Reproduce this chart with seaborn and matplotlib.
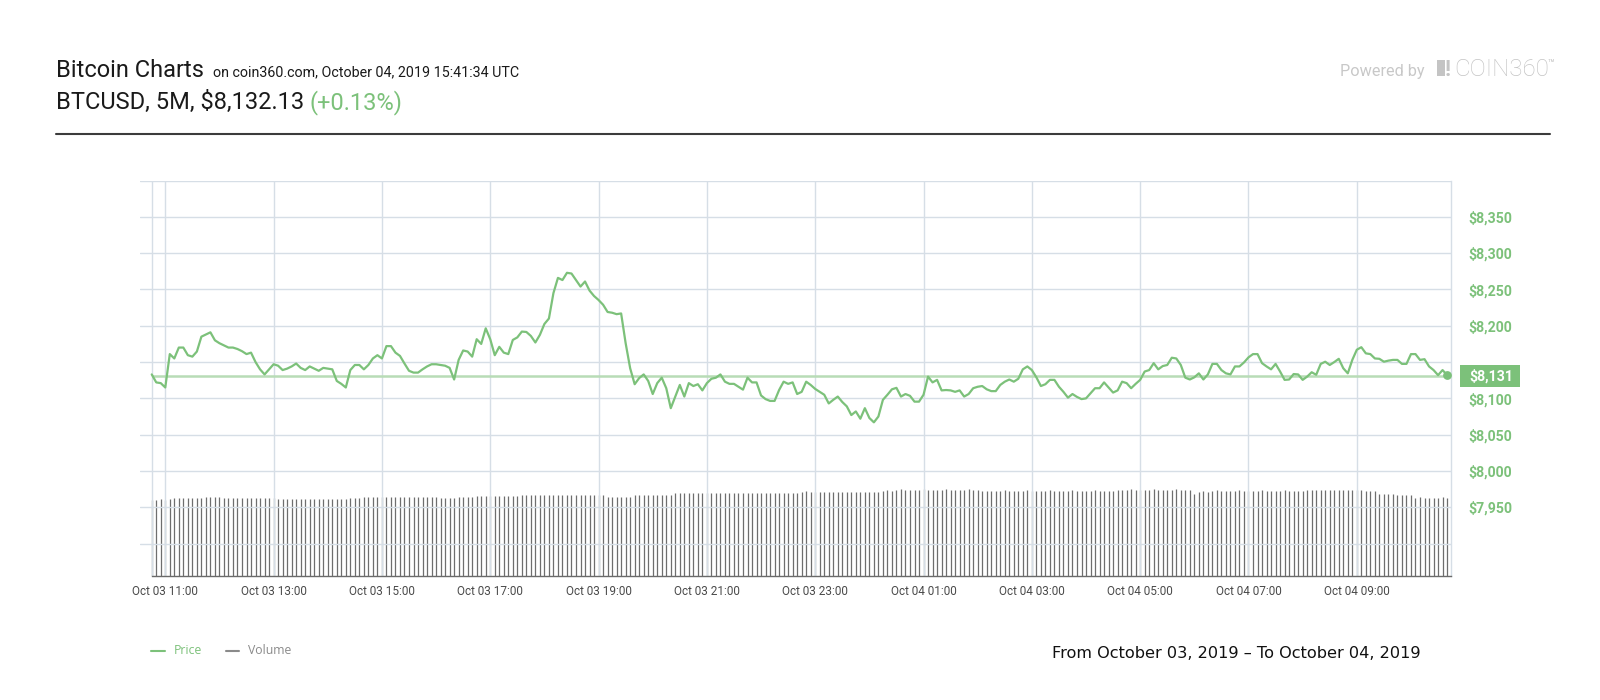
import numpy as np
import pandas as pd
import matplotlib
matplotlib.use("Agg")
import matplotlib.pyplot as plt
import matplotlib.dates as mdates
import matplotlib.transforms as mtransforms
from matplotlib.patches import Rectangle
from matplotlib.lines import Line2D
import seaborn as sns

# ---------------- data ----------------
start_time = "2019-10-03 10:45"
price = [
    8133, 8122, 8121, 8115, 8161, 8155, 8170, 8170, 8159.5, 8157.5, 8164.5, 8185,
    8188, 8191, 8180, 8176, 8173, 8170, 8170, 8168, 8165, 8161, 8163, 8150,
    8140, 8133, 8140, 8147, 8145, 8139, 8141, 8144, 8148, 8142, 8139, 8144,
    8141, 8138, 8142, 8141, 8140, 8124, 8120, 8115, 8139, 8146, 8146, 8140,
    8146, 8155, 8159.5, 8155, 8172, 8172, 8163, 8158.5, 8148, 8138, 8135.5, 8135.5,
    8140, 8144, 8147, 8147, 8146, 8145, 8142, 8126, 8153, 8166, 8164.5, 8157.5,
    8181.5, 8175, 8196.5, 8181.5, 8159.5, 8171, 8163, 8161, 8180.5, 8184, 8192, 8191.5,
    8186, 8177, 8187.5, 8202.5, 8210, 8245, 8266, 8263, 8273, 8272, 8263, 8254,
    8261, 8248.5, 8241, 8235.5, 8229, 8219, 8218, 8216, 8217, 8176, 8141.5, 8119.5,
    8128, 8133, 8124, 8106, 8121, 8128.5, 8114, 8086.5, 8102.5, 8118.5, 8102.5, 8121,
    8117, 8119.5, 8111, 8121, 8127, 8128.5, 8133, 8123, 8120, 8120, 8116, 8112,
    8128.5, 8122, 8122, 8104, 8099, 8096.5, 8096.5, 8111.5, 8123, 8120, 8122, 8106,
    8109, 8123, 8118.5, 8113, 8109, 8105, 8093, 8098, 8102.5, 8095, 8089, 8077,
    8082, 8072, 8086.5, 8073, 8067, 8075, 8098, 8105, 8112.5, 8114.5, 8102.5, 8106,
    8103.5, 8095.5, 8095.5, 8105, 8130, 8122, 8125.5, 8111, 8111.5, 8111, 8109, 8111,
    8102.5, 8106, 8114, 8116, 8117, 8112.5, 8110, 8110, 8118.5, 8123, 8126, 8123,
    8127, 8140, 8144, 8139, 8129, 8117, 8119.5, 8125.5, 8125.5, 8116, 8109, 8101,
    8106, 8102, 8099, 8100, 8107, 8114, 8114, 8122, 8115, 8108, 8111, 8123,
    8121, 8114, 8120, 8125.5, 8137, 8139, 8148.5, 8140, 8144.5, 8146, 8156, 8155,
    8146, 8128.5, 8126, 8129, 8134.5, 8126, 8133, 8147.5, 8147.5, 8139, 8134.5, 8133,
    8144, 8144, 8149.5, 8156.5, 8161, 8161, 8148.5, 8144, 8140, 8147.5, 8137, 8125.5,
    8126, 8133.5, 8133, 8125.5, 8130, 8136, 8132.5, 8147.5, 8150.5, 8146, 8150, 8154.5,
    8141.5, 8134.5, 8153, 8167, 8170.5, 8162, 8161, 8155, 8154.5, 8150.5, 8152, 8153,
    8153, 8147.5, 8147.5, 8161, 8161, 8153, 8154, 8144, 8139, 8132, 8139, 8132,
]
volume = [
    76.0, 76.0, 76.2, 76.0, 76.3, 77.5, 77.6, 77.5, 77.5, 77.7, 77.5, 77.6,
    78.5, 78.6, 78.5, 78.4, 77.5, 77.5, 77.6, 77.5, 77.4, 77.5, 77.5, 77.6,
    77.5, 77.4, 77.5, 77.5, 76.5, 76.4, 76.5, 76.5, 76.6, 76.5, 76.4, 76.5,
    76.5, 76.5, 76.6, 76.5, 76.4, 76.5, 76.6, 76.5, 77.2, 77.3, 77.2, 78.5,
    78.5, 78.6, 78.5, 78.5, 78.4, 78.5, 78.6, 78.5, 78.5, 78.4, 78.5, 78.6,
    78.5, 78.5, 78.6, 78.5, 77.5, 77.4, 77.5, 77.5, 78.5, 78.6, 78.5, 78.5,
    79.5, 79.6, 79.5, 79.5, 79.4, 79.5, 79.6, 79.5, 79.5, 79.6, 80.5, 80.4,
    80.5, 80.6, 80.5, 80.5, 80.4, 80.5, 80.6, 80.5, 80.5, 80.4, 80.5, 80.6,
    80.5, 80.5, 80.4, 80.5, 80.6, 78.5, 78.4, 78.5, 78.5, 78.6, 78.5, 80.5,
    80.5, 80.6, 80.5, 80.5, 80.4, 80.5, 80.6, 80.5, 82.5, 82.4, 82.5, 82.6,
    82.5, 82.5, 82.4, 82.5, 82.6, 82.5, 82.5, 82.4, 82.5, 82.6, 82.5, 82.5,
    82.4, 82.5, 82.6, 82.5, 82.5, 82.4, 82.5, 82.6, 82.5, 82.5, 82.4, 82.5,
    84.0, 84.1, 84.0, 84.0, 83.9, 84.0, 83.5, 83.6, 83.5, 83.5, 83.4, 83.5,
    83.5, 83.6, 83.5, 83.5, 83.4, 83.5, 85.0, 85.1, 85.0, 86.0, 86.1, 86.0,
    86.0, 85.9, 86.0, 86.1, 86.0, 86.0, 85.9, 86.0, 86.1, 86.0, 86.0, 85.9,
    86.0, 86.1, 86.0, 86.0, 84.5, 84.6, 84.5, 84.5, 85.0, 85.1, 85.0, 85.0,
    84.9, 85.0, 85.1, 85.0, 85.0, 84.9, 85.0, 85.1, 85.0, 85.0, 84.9, 85.0,
    85.1, 85.0, 85.0, 84.9, 85.0, 85.1, 85.0, 85.0, 84.9, 85.0, 85.1, 86.0,
    86.0, 86.1, 86.0, 86.0, 85.9, 86.0, 86.1, 86.0, 86.0, 85.9, 86.0, 86.1,
    86.0, 86.0, 85.9, 81.7, 84.0, 84.1, 84.0, 85.0, 85.1, 85.0, 85.0, 84.9,
    85.0, 85.1, 85.0, 85.0, 84.9, 85.0, 85.1, 85.0, 85.0, 84.9, 85.0, 85.1,
    85.0, 85.0, 84.9, 85.0, 85.1, 85.5, 85.6, 85.5, 85.5, 85.4, 85.5, 85.6,
    85.5, 85.5, 85.4, 85.5, 85.6, 84.5, 84.6, 84.5, 81.7, 81.8, 81.7, 81.6,
    80.5, 80.6, 80.5, 80.4, 78.0, 78.1, 78.0, 77.9, 78.0, 78.0, 78.1, 78.0,
]
current_price = 8131
y_ticks = [7900, 7950, 8000, 8050, 8100, 8150, 8200, 8250, 8300, 8350, 8400]
y_labels = ["", "$7,950", "$8,000", "$8,050", "$8,100", "", "$8,200",
            "$8,250", "$8,300", "$8,350", ""]
x_ticks = pd.date_range("2019-10-03 11:00", "2019-10-04 09:00", freq="2h")

times = pd.date_range(start_time, periods=len(price), freq="5min")
df = pd.DataFrame({"time": times, "price": price, "volume": volume})

# ---------------- style ----------------
sns.set_style("white")
plt.rcParams["font.family"] = ["Roboto", "DejaVu Sans"]

GREEN = "#7cc17a"
LEVEL = "#b8dcb6"
GRID = "#d6dee6"
VOLC = "#6e6e6e"

fig = plt.figure(figsize=(16, 7), dpi=100)
ax = fig.add_axes([140 / 1600, 1 - 575.5 / 700, 1310.7 / 1600, 394.9 / 700])

x_left = pd.Timestamp("2019-10-03 10:32")
x_right = pd.Timestamp("2019-10-04 10:44")

# volume on a twin axis (behind price)
ax2 = ax.twinx()
ax2.vlines(df["time"], 0, df["volume"], color=VOLC, lw=0.9)
ax2.set_ylim(0, 394.9)
ax2.set_yticks([])
for s in ax2.spines.values():
    s.set_visible(False)

# price
ax.hlines(current_price, times[0], x_right, color=LEVEL, lw=1.8, zorder=2)
sns.lineplot(data=df, x="time", y="price", ax=ax, color=GREEN, lw=1.6, zorder=3)
ax.scatter([times[-1]], [price[-1]], s=28, color=GREEN, zorder=4)

ax.set_xlim(x_left, x_right)
ax.set_ylim(7856, 8400)
ax.set_xlabel("")
ax.set_ylabel("")

ax.set_xticks(x_ticks)
ax.xaxis.set_major_formatter(mdates.DateFormatter("%b %d %H:%M"))
ax.tick_params(axis="x", length=0, pad=7, labelsize=8.5, labelcolor="#4a4a4a")

ax.yaxis.tick_right()
ax.set_yticks(y_ticks)
ax.set_yticklabels(y_labels)
ax.tick_params(axis="y", length=0, pad=12.5, labelsize=10.2, labelcolor=GREEN)
for lab in ax.get_yticklabels():
    lab.set_fontweight("bold")

ax.grid(True, color=GRID, lw=1)
ax.axvline(times[0], color=GRID, lw=1, zorder=0)
ax.set_axisbelow(True)
for side in ["left", "top"]:
    ax.spines[side].set_visible(False)
ax.spines["right"].set_color(GRID)
ax.spines["right"].set_linewidth(1)
ax.spines["bottom"].set_color("#6a6a6a")
ax.spines["bottom"].set_linewidth(1)
ax.spines["bottom"].set_bounds(mdates.date2num(times[0]), mdates.date2num(x_right))
ax.set_zorder(ax2.get_zorder() + 1)
ax.patch.set_visible(False)

# current price box on the right
blend = mtransforms.blended_transform_factory(ax.transAxes, ax.transData)
ax.add_patch(Rectangle((1.0071, current_price - 15.6), 0.0458, 31.2, transform=blend,
                       clip_on=False, facecolor=GREEN, edgecolor="none", zorder=5))
ax.text(1.0139, current_price, f"${current_price:,}", transform=blend, color="white",
        fontsize=10.2, fontweight="bold", va="center", ha="left", zorder=6,
        clip_on=False)

# ---------------- header ----------------
fig.text(56 / 1600, 1 - 76.7 / 700, "Bitcoin Charts", fontsize=17, color="#1a1a1a",
         va="baseline")
fig.text(213 / 1600, 1 - 76.7 / 700, "on coin360.com, October 04, 2019 15:41:34 UTC",
         fontsize=10.3, color="#1a1a1a", va="baseline")
fig.text(56 / 1600, 1 - 109.3 / 700, "BTCUSD, 5M, $8,132.13", fontsize=17,
         color="#1a1a1a", va="baseline")
fig.text(309.3 / 1600, 1 - 109.3 / 700, "(+0.13%)", fontsize=17, color=GREEN,
         va="baseline")
fig.add_artist(Line2D([56 / 1600, 1550 / 1600], [1 - 134.3 / 700] * 2,
                      color="#3c3c3c", lw=1.5))

fig.text(1340 / 1600, 1 - 75.7 / 700, "Powered by", fontsize=11.7, color="#c8c8c8",
         va="baseline")
fig.add_artist(Rectangle((1436.7 / 1600, 1 - 76 / 700), 8 / 1600, 16 / 700,
                         transform=fig.transFigure, facecolor="#c4c4c4",
                         edgecolor="none"))
fig.text(1445 / 1600, 1 - 76 / 700, "!", fontsize=16, fontweight="bold",
         color="#c4c4c4", va="baseline")
fig.text(1454 / 1600, 1 - 76 / 700, "COIN360", fontsize=17.4, color="#c4c4c4",
         va="baseline", fontweight="light")
fig.text(1547 / 1600, 1 - 67 / 700, "\u2122", fontsize=8, color="#c4c4c4",
         va="baseline")

# ---------------- legend ----------------
fig.add_artist(Line2D([150.7 / 1600, 165 / 1600], [1 - 651 / 700] * 2, color=GREEN,
                      lw=1.5))
fig.text(173.3 / 1600, 1 - 650.7 / 700, "Price", fontsize=8.8, color=GREEN,
         va="center", family=["Open Sans", "DejaVu Sans"])
fig.add_artist(Line2D([225.7 / 1600, 239.3 / 1600], [1 - 651 / 700] * 2,
                      color="#8a8a8a", lw=1.5))
fig.text(248.3 / 1600, 1 - 650.7 / 700, "Volume", fontsize=8.8, color="#8a8a8a",
         va="center", family=["Open Sans", "DejaVu Sans"])

fig.text(1051.7 / 1600, 1 - 657.7 / 700,
         "From October 03, 2019 \u2013 To October 04, 2019", fontsize=11.6,
         color="#111111", va="baseline", family=["DejaVu Sans"])

fig.savefig("out.png", dpi=100, facecolor="white")
